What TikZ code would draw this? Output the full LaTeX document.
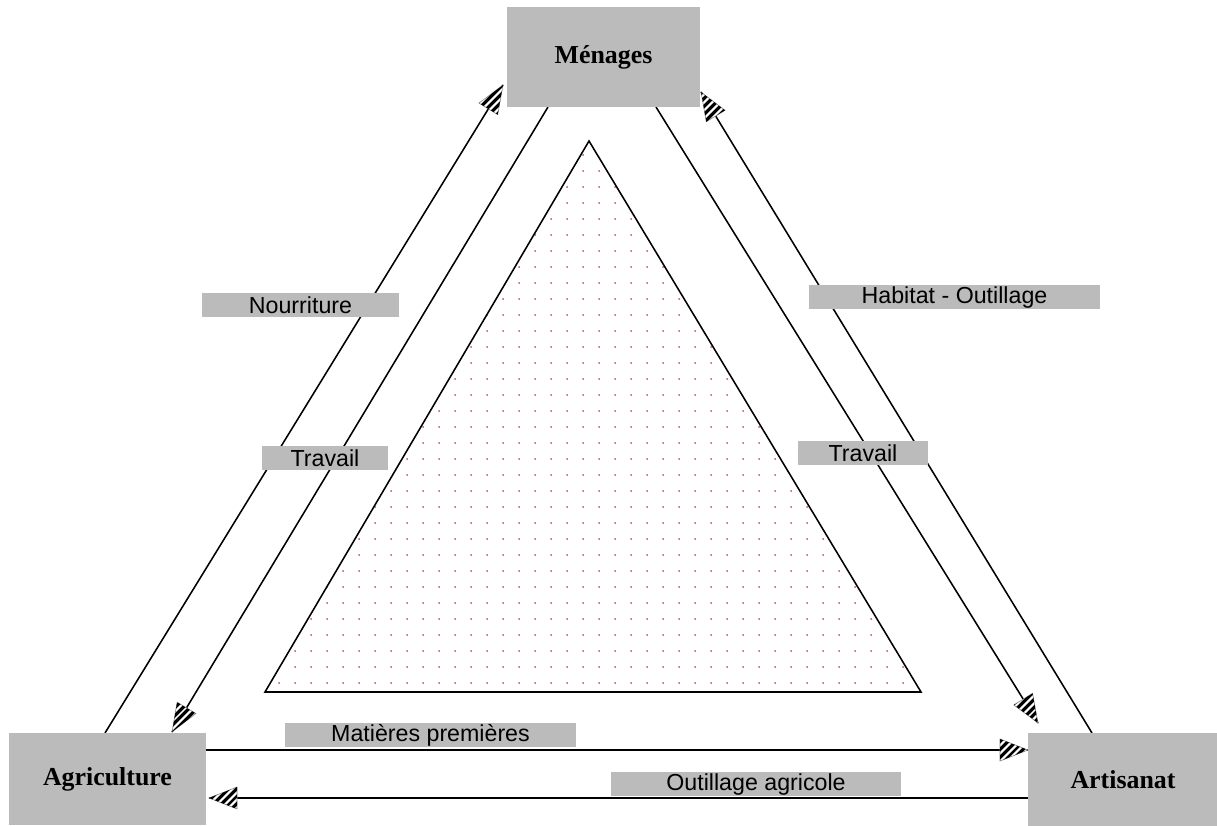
\documentclass[tikz,border=0pt]{standalone}
\usepackage{fontspec}
\setmainfont{Liberation Serif}
\setsansfont{Liberation Sans}
\usetikzlibrary{decorations.markings,patterns.meta}
\definecolor{boxgray}{RGB}{187,187,187}
\definecolor{dotred}{RGB}{215,70,70}
\tikzset{
  sector/.style={fill=boxgray, inner sep=0pt, font=\fontsize{18.4}{20}\selectfont\bfseries},
  flowlabel/.style={fill=boxgray, inner sep=0pt, minimum height=24*0.025cm, font=\sffamily\fontsize{16.5}{18}\selectfont},
  flow/.style={line width=1.1pt},
  hatchtip/.style={postaction={decorate}, decoration={markings, mark=at position 1 with {
    \path[fill=white, draw=gray, line width=0.4pt] (0,0) -- (-28,11) -- (-28,-11) -- cycle;
    \path[pattern={Lines[angle=45,distance=4pt,line width=2.3pt]}] (0,0) -- (-28,11) -- (-28,-11) -- cycle;}}},
}
\begin{document}
\begin{tikzpicture}[x=0.025cm,y=-0.025cm]
  \useasboundingbox (0,0) rectangle (1217,826);
  % le triangle pointillé
  \coordinate (apex) at (589,141);
  \coordinate (baseL) at (265,692);
  \coordinate (baseR) at (921,692);
  \begin{scope}
    \clip (apex) -- (baseL) -- (baseR) -- cycle;
    \foreach \i in {16,...,57}
      \foreach \j in {9,...,42}
        \fill[dotred] (7+16*\i,11+16*\j) circle[radius=1];
  \end{scope}
  \draw[line width=1.1pt, line join=miter] (apex) -- (baseL) -- (baseR) -- cycle;
  % extrémités des flux
  \coordinate (nourS) at (105,733);
  \coordinate (nourE) at (503,85);
  \coordinate (travAS) at (548,107);
  \coordinate (travAE) at (172,732);
  \coordinate (travBS) at (656,107);
  \coordinate (travBE) at (1038,723);
  \coordinate (habS) at (1092,733);
  \coordinate (habE) at (701,92);
  \coordinate (matS) at (206,750);
  \coordinate (matE) at (1028,750);
  \coordinate (outS) at (1028,798);
  \coordinate (outE) at (209,798);
  \draw[flow, hatchtip] (nourS) -- (nourE);
  \draw[flow, hatchtip] (travAS) -- (travAE);
  \draw[flow, hatchtip] (travBS) -- (travBE);
  \draw[flow, hatchtip] (habS) -- (habE);
  \draw[flow, hatchtip] (matS) -- (matE);
  \draw[flow, hatchtip] (outS) -- (outE);
  % étiquettes
  \node[flowlabel, minimum width=197*0.025cm] (lnour) at (300.5,305) {Nourriture};
  \node[flowlabel, minimum width=126*0.025cm] (ltravA) at (325,458) {Travail};
  \node[flowlabel, minimum width=291*0.025cm] (lhab) at (954.5,297.5) {Habitat - Outillage};
  \node[flowlabel, minimum width=130*0.025cm] (ltravB) at (863,453.5) {Travail};
  \node[flowlabel, minimum width=291*0.025cm] (lmat) at (430.5,735) {Matières premières};
  \node[flowlabel, minimum width=290*0.025cm] (lout) at (756,784) {Outillage agricole};
  % secteurs
  \node[sector, minimum width=193*0.025cm, minimum height=100*0.025cm] (men) at (603.5,57) {Ménages};
  \node[sector, minimum width=197*0.025cm, minimum height=92*0.025cm] (agri) at (107.5,779) {Agriculture};
  \node[sector, minimum width=190*0.025cm, minimum height=93*0.025cm] (arti) at (1123,779.5) {Artisanat};
\end{tikzpicture}
\end{document}
